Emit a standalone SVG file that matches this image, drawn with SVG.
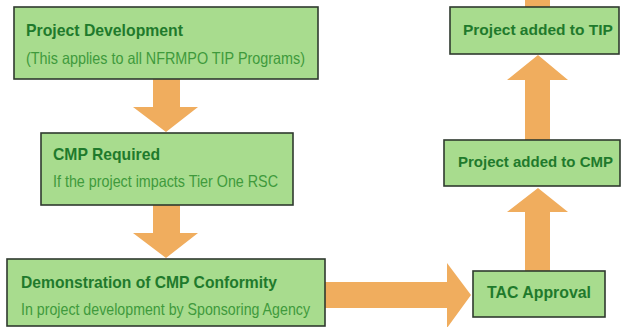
<svg xmlns="http://www.w3.org/2000/svg" width="624" height="327" viewBox="0 0 624 327">
<style>
.box{fill:#a8dc8e;stroke:#2f3a2f;stroke-width:1.6}
.arr{fill:#f0ad5e}
.t{font-family:"Liberation Sans",Arial,sans-serif;font-weight:bold;font-size:17px;fill:#1f7a2c}
.s{font-family:"Liberation Sans",Arial,sans-serif;font-size:16.5px;fill:#3f9a3c}
</style>
<rect width="624" height="327" fill="#ffffff"/>
<g id="connectors">
<polygon class="arr" points="153,79 180,79 180,107 198,107 166,132 133,107 153,107"/>
<polygon class="arr" points="153,205 180,205 180,233 198,233 166,258 133,233 153,233"/>
<polygon class="arr" points="325,282 447,282 447,263 471,295 447,328 447,308 325,308"/>
<polygon class="arr" points="525,271 550,271 550,212 568,212 538,188 507,212 525,212"/>
<polygon class="arr" points="525,140 550,140 550,80 568,80 538,55 507,80 525,80"/>
<rect class="arr" x="525" y="0" width="25" height="7"/>
</g>
<g id="n1">
<rect class="box" x="14" y="7" width="304" height="72"/>
<text class="t" x="26" y="36" textLength="157" lengthAdjust="spacingAndGlyphs">Project Development</text>
<text class="s" x="26" y="64" textLength="279" lengthAdjust="spacingAndGlyphs">(This applies to all NFRMPO TIP Programs)</text>
</g>
<g id="n2">
<rect class="box" x="41" y="133" width="252" height="72"/>
<text class="t" x="53" y="160" textLength="107" lengthAdjust="spacingAndGlyphs">CMP Required</text>
<text class="s" x="53" y="187" textLength="225" lengthAdjust="spacingAndGlyphs">If the project impacts Tier One RSC</text>
</g>
<g id="n3">
<rect class="box" x="7" y="259" width="318" height="67"/>
<text class="t" x="21" y="288" textLength="256" lengthAdjust="spacingAndGlyphs">Demonstration of CMP Conformity</text>
<text class="s" x="21" y="315" textLength="289" lengthAdjust="spacingAndGlyphs">In project development by Sponsoring Agency</text>
</g>
<g id="n4">
<rect class="box" x="473" y="271" width="132" height="46"/>
<text class="t" x="487" y="298" textLength="104" lengthAdjust="spacingAndGlyphs">TAC Approval</text>
</g>
<g id="n5">
<rect class="box" x="444" y="140" width="176" height="46"/>
<text class="t" x="458" y="167" style="font-size:15px">Project added to CMP</text>
</g>
<g id="n6">
<rect class="box" x="450" y="7" width="169" height="47"/>
<text class="t" x="463" y="35" style="font-size:15.5px">Project added to TIP</text>
</g>
</svg>
